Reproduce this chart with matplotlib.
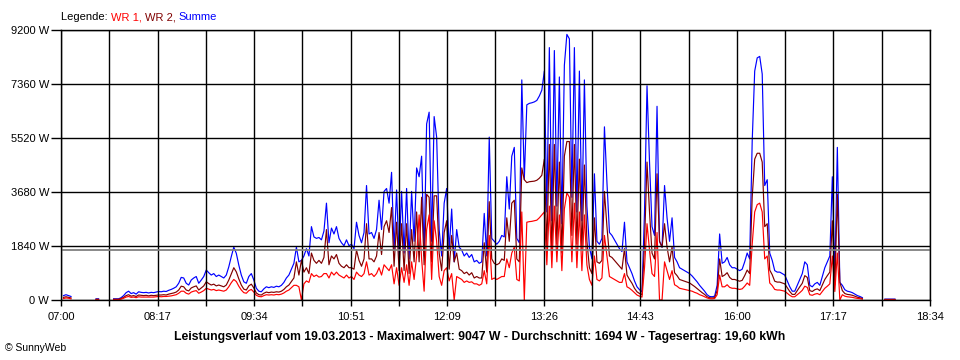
import numpy as np
import matplotlib
matplotlib.use("Agg")
import matplotlib.pyplot as plt

# one reading every 2 minutes, starting 07:00 (None = no data)
STEP_MIN = 2

SUMME = [
    None, 150, 180, 150, 120, None, None, None, None, None,
    None, None, None, None, 40, 40, None, None, None, None,
    None, 40, 40, 40, 80, 150, 250, 300, 220, 250,
    200, 280, 260, 250, 260, 240, 260, 250, 270, 290,
    280, 300, 290, 330, 360, 400, 450, 570, 770, 750,
    570, 510, 680, 750, 800, 570, 680, 800, 1020, 930,
    850, 900, 800, 850, 800, 750, 850, 1130, 1480, 1800,
    1590, 1190, 850, 620, 570, 800, 900, 680, 400, 300,
    280, 380, 450, 420, 450, 430, 470, 450, 500, 600,
    750, 850, 1050, 1250, 1800, 1300, 1350, 1500, 1750, 1500,
    2500, 2150, 2100, 2130, 2050, 2350, 3300, 1950, 2450, 2250,
    2500, 2100, 1950, 1850, 2050, 1850, 1900, 1750, 2650, 2200,
    1950, 2300, 3900, 2250, 2300, 2100, 2400, 3400, 2400, 3700,
    3800, 3300, 4350, 1700, 3750, 1500, 3700, 1600, 3800, 1400,
    3700, 2000, 4500, 4200, 4900, 1500, 6000, 6400, 2000, 6250,
    5550, 2400, 1500, 3300, 3800, 1700, 3100, 1300, 2400, 1800,
    1700, 1500, 1600, 1450, 1550, 1300, 1350, 1250, 1300, 2950,
    1500, 5550, 2100, 2000, 1900, 2000, 2200, 2150, 4200, 3100,
    4900, 5200, 2100, 1950, 7500, 4100, 6650, 6700, 6720, 6750,
    6800, 6950, 7150, 7800, 3000, 8600, 2700, 8500, 3200, 7600,
    2600, 8000, 9050, 8900, 3500, 8600, 3000, 7800, 2700, 7500,
    3200, 1800, 1400, 4300, 2000, 1900, 2100, 5900, 4000, 2300,
    2200, 2050, 1900, 1750, 1650, 2650, 1300, 1100, 900, 650,
    450, 350, 280, 3000, 7300, 4700, 2500, 2200, 6600, 2000,
    1800, 3900, 2800, 2000, 2800, 1450, 1300, 1100, 1050, 1000,
    950, 900, 820, 720, 620, 500, 400, 300, 180, 120,
    110, 130, 500, 2250, 1250, 1300, 1450, 1200, 1100, 1100,
    1050, 1000, 1050, 1300, 1600, 1400, 5400, 7800, 8250, 8300,
    7700, 3900, 4100, 1600, 1350, 1000, 950, 950, 900, 850,
    650, 450, 300, 300, 500, 700, 900, 1300, 1200, 500,
    450, 550, 600, 500, 800, 1100, 1300, 1500, 4200, 800,
    5200, 600, 500, 350, 300, 280, 250, 200, 150, 120,
    80, None, None, None, None, None, None, None, None, 30,
    30, 30, 30, 30, None, None, None, None, None, None,
]

WR1 = [
    None, 50, 70, 60, 40, None, None, None, None, None,
    None, None, None, None, 15, 15, None, None, None, None,
    None, 15, 15, 15, 30, 60, 100, 120, 90, 100,
    80, 110, 100, 100, 100, 100, 100, 100, 110, 120,
    110, 120, 120, 130, 140, 160, 180, 230, 300, 300,
    230, 200, 270, 300, 320, 230, 270, 320, 400, 370,
    340, 360, 320, 340, 320, 300, 340, 450, 590, 700,
    630, 470, 340, 250, 230, 320, 360, 270, 160, 120,
    110, 150, 180, 170, 180, 170, 190, 180, 200, 240,
    300, 340, 420, 500, 500, 450, 0, 550, 650, 600,
    900, 800, 850, 780, 800, 900, 900, 750, 950, 850,
    950, 850, 800, 750, 850, 750, 800, 700, 950, 850,
    800, 900, 1300, 850, 900, 800, 900, 1100, 850, 1200,
    1100, 1000, 1200, 550, 1100, 500, 1100, 600, 1200, 500,
    1300, 700, 1500, 2900, 1400, 300, 2400, 2900, 700, 2700,
    2000, 800, 500, 1000, 1100, 650, 900, 0, 800, 750,
    700, 600, 650, 600, 620, 550, 550, 500, 550, 1000,
    550, 2200, 700, 750, 700, 750, 800, 800, 1400, 1100,
    1600, 1800, 700, 650, 3000, 0, 2650, 2670, 2680, 2700,
    2720, 2800, 2900, 3000, 1200, 3200, 1100, 3200, 1300, 2900,
    1000, 3100, 3650, 3500, 1300, 3300, 1100, 3000, 1000, 2900,
    1200, 700, 500, 1500, 700, 650, 750, 2200, 1500, 800,
    750, 700, 650, 600, 600, 900, 450, 400, 330, 250,
    170, 130, 100, 1100, 2600, 1700, 900, 800, 2300, 0,
    0, 1300, 1000, 700, 1000, 520, 470, 400, 380, 360,
    340, 320, 300, 260, 230, 180, 150, 110, 70, 45,
    40, 50, 180, 850, 450, 450, 520, 430, 400, 400,
    380, 360, 380, 470, 580, 500, 1900, 3000, 3250, 3300,
    3000, 1400, 1500, 580, 490, 360, 340, 340, 320, 300,
    230, 160, 110, 110, 180, 250, 330, 470, 430, 180,
    160, 200, 220, 180, 290, 400, 470, 550, 1500, 290,
    1600, 0, 180, 130, 110, 100, 90, 70, 55, 45,
    30, None, None, None, None, None, None, None, None, 10,
    10, 10, 10, 10, None, None, None, None, None, None,
]

WR2 = [
    None, 90, 110, 90, 70, None, None, None, None, None,
    None, None, None, None, 25, 25, None, None, None, None,
    None, 25, 25, 25, 50, 90, 150, 180, 130, 150,
    120, 170, 160, 150, 160, 140, 160, 150, 160, 170,
    170, 180, 170, 200, 220, 240, 270, 340, 470, 450,
    340, 310, 410, 450, 480, 340, 410, 480, 620, 560,
    510, 540, 480, 510, 480, 450, 510, 680, 890, 1100,
    960, 720, 510, 370, 340, 480, 540, 410, 240, 180,
    170, 230, 270, 250, 270, 260, 280, 270, 300, 360,
    450, 510, 630, 750, 1300, 850, 1350, 950, 1100, 900,
    1600, 1350, 1250, 1350, 1250, 1450, 2400, 1200, 1500, 1400,
    1550, 1250, 1150, 1100, 1200, 1100, 1100, 1050, 1700, 1350,
    1150, 1400, 2600, 1400, 1400, 1300, 1500, 2300, 1550, 2500,
    2700, 2300, 3150, 1150, 2650, 1000, 2600, 1000, 2600, 900,
    2400, 1300, 3000, 1300, 3500, 1200, 3600, 3500, 1300, 3550,
    3550, 1600, 1000, 2300, 2700, 1050, 2200, 1300, 1600, 1050,
    1000, 900, 950, 850, 930, 750, 800, 750, 750, 1950,
    950, 3350, 1400, 1250, 1200, 1250, 1400, 1350, 2800, 2000,
    3300, 3400, 1400, 1300, 4500, 4100, 4000, 4030, 4040, 4050,
    4080, 4150, 4250, 4800, 1800, 5300, 1600, 5300, 1900, 4700,
    1600, 4900, 5400, 5400, 2200, 5300, 1900, 4800, 1700, 4600,
    2000, 1100, 900, 2800, 1300, 1250, 1350, 3700, 2500, 1500,
    1450, 1350, 1250, 1150, 1050, 1750, 850, 700, 570, 400,
    280, 220, 180, 1900, 4700, 3000, 1600, 1400, 4300, 2000,
    1800, 2600, 1800, 1300, 1800, 930, 830, 700, 670, 640,
    610, 580, 520, 460, 390, 320, 250, 190, 110, 75,
    70, 80, 320, 1400, 800, 850, 930, 770, 700, 700,
    670, 640, 670, 830, 1020, 900, 3500, 4800, 5000, 5000,
    4700, 2500, 2600, 1020, 860, 640, 610, 610, 580, 550,
    420, 290, 190, 190, 320, 450, 570, 830, 770, 320,
    290, 350, 380, 320, 510, 700, 830, 950, 2700, 510,
    3600, 600, 320, 220, 190, 180, 160, 130, 95, 75,
    50, None, None, None, None, None, None, None, None, 20,
    20, 20, 20, 20, None, None, None, None, None, None,
]

MEAN_W = 1694
Y_TICKS = [0, 1840, 3680, 5520, 7360, 9200]
X_LABELS = ["07:00", "08:17", "09:34", "10:51", "12:09",
            "13:26", "14:43", "16:00", "17:17", "18:34"]
X_END_MIN = 694          # 07:00 -> 18:34

TITLE = ("Leistungsverlauf vom 19.03.2013 - Maximalwert: 9047 W - "
         "Durchschnitt: 1694 W - Tagesertrag: 19,60 kWh")

C_WR1 = "#FF0000"
C_WR2 = "#800000"
C_SUM = "#0000FF"
C_MEAN = "#808080"

W, H = 960, 360

plt.rcParams["font.family"] = ["Liberation Sans", "DejaVu Sans"]

fig = plt.figure(figsize=(W / 100, H / 100), dpi=100)
ax = fig.add_axes([61 / W, 60 / H, 869 / W, 270 / H])

minutes = np.arange(len(SUMME)) * STEP_MIN
s_sum = np.array(SUMME, dtype=float)
s_wr1 = np.array(WR1, dtype=float)
s_wr2 = np.array(WR2, dtype=float)

ax.plot(minutes, s_sum, color=C_SUM, lw=0.85, zorder=2)
ax.plot(minutes, s_wr2, color=C_WR2, lw=0.85, zorder=2.1)
ax.plot(minutes, s_wr1, color=C_WR1, lw=0.85, zorder=2.2)

ax.axhline(MEAN_W, color=C_MEAN, lw=1.3, zorder=3)

ax.set_xlim(0, X_END_MIN)
ax.set_ylim(0, Y_TICKS[-1])

x_ticks = np.linspace(0, X_END_MIN, 2 * len(X_LABELS) - 1)
x_ticklabels = []
for lab in X_LABELS:
    x_ticklabels += [lab, ""]
ax.set_xticks(x_ticks)
ax.set_xticklabels(x_ticklabels[:-1])
ax.set_yticks(Y_TICKS)
ax.set_yticklabels([f"{v} W" for v in Y_TICKS])

ax.grid(True, color="black", lw=1.0)
ax.set_axisbelow(False)
for sp in ax.spines.values():
    sp.set_color("black")
    sp.set_linewidth(1.0)
    sp.set_zorder(4)

ax.tick_params(axis="x", length=4, width=1, pad=5, labelsize=8)
ax.tick_params(axis="y", length=7, width=1, pad=1.5, labelsize=8)

# legend line with coloured words
fig.canvas.draw()
rend = fig.canvas.get_renderer()
x_px = 61
for txt, col in [("Legende: ", "black"), ("WR 1, ", C_WR1),
                 ("WR 2, ", C_WR2), ("Summe", C_SUM)]:
    t = fig.text(x_px / W, 1 - 17 / H, txt, color=col, fontsize=8,
                 ha="left", va="center")
    x_px += t.get_window_extent(renderer=rend).width

fig.text(480 / W, 1 - 337 / H, TITLE, ha="center", va="center",
         fontsize=8.8, fontweight="bold")
fig.text(5 / W, 1 - 348 / H, "© SunnyWeb", ha="left", va="center",
         fontsize=7.5)

fig.savefig("out.png", dpi=100)
